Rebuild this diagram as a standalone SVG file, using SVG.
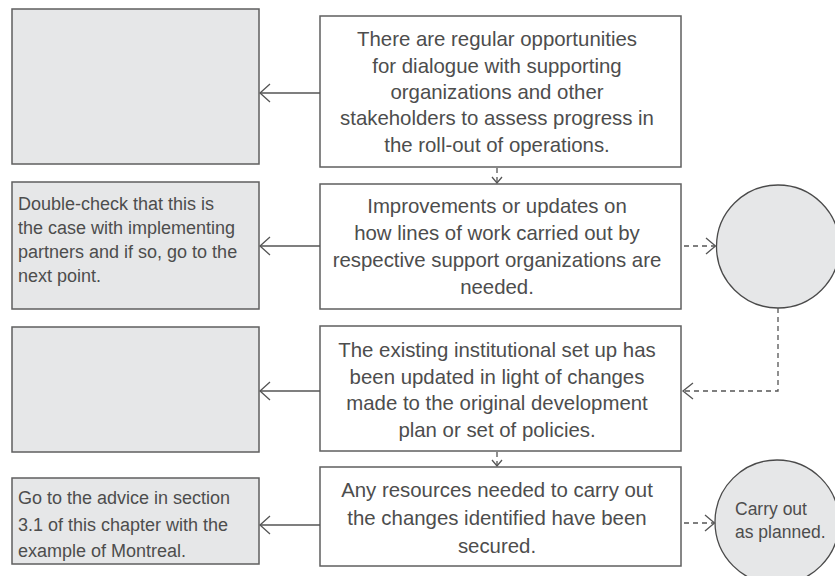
<svg xmlns="http://www.w3.org/2000/svg" width="835" height="576" viewBox="0 0 835 576">
<style>
.box{fill:#ffffff;stroke:#5f5f5f;stroke-width:1.5}
.gbox{fill:#e6e7e8;stroke:#5f5f5f;stroke-width:1.5}
.circ{fill:#e6e7e8;stroke:#4a4a4a;stroke-width:1.3}
.t{font-family:"Liberation Sans",Arial,sans-serif;fill:#4d4d4d}
.mid{font-size:20.4px;text-anchor:middle}
.side{font-size:18px}
.line{fill:none;stroke:#555;stroke-width:1.3}
.dash{fill:none;stroke:#555;stroke-width:1.3;stroke-dasharray:5 4}
.head{fill:none;stroke:#555;stroke-width:1.3}
</style>
<g id="left1"><rect class="gbox" x="12" y="9" width="247" height="155"/></g>
<g id="left2"><rect class="gbox" x="12" y="182" width="247" height="127"/>
<text class="t side" x="18" y="210">Double-check that this is</text>
<text class="t side" x="18" y="234">the case with implementing</text>
<text class="t side" x="18" y="258">partners and if so, go to the</text>
<text class="t side" x="18" y="282">next point.</text></g>
<g id="left3"><rect class="gbox" x="12" y="327" width="247" height="125"/></g>
<g id="left4"><rect class="gbox" x="12" y="478" width="247" height="86"/>
<text class="t side" x="18" y="504">Go to the advice in section</text>
<text class="t side" x="18" y="530.5">3.1 of this chapter with the</text>
<text class="t side" x="18" y="557">example of Montreal.</text></g>
<g id="mid1"><rect class="box" x="320" y="16" width="361" height="151"/>
<text class="t mid" x="497" y="46">There are regular opportunities</text>
<text class="t mid" x="497" y="72.5">for dialogue with supporting</text>
<text class="t mid" x="497" y="99">organizations and other</text>
<text class="t mid" x="497" y="125">stakeholders to assess progress in</text>
<text class="t mid" x="497" y="151.5">the roll-out of operations.</text></g>
<g id="mid2"><rect class="box" x="320" y="184" width="361" height="125"/>
<text class="t mid" x="497" y="213">Improvements or updates on</text>
<text class="t mid" x="497" y="240">how lines of work carried out by</text>
<text class="t mid" x="497" y="267">respective support organizations are</text>
<text class="t mid" x="497" y="294">needed.</text></g>
<g id="mid3"><rect class="box" x="320" y="326" width="361" height="125"/>
<text class="t mid" x="497" y="357">The existing institutional set up has</text>
<text class="t mid" x="497" y="383.5">been updated in light of changes</text>
<text class="t mid" x="497" y="410">made to the original development</text>
<text class="t mid" x="497" y="436.5">plan or set of policies.</text></g>
<g id="mid4"><rect class="box" x="320" y="467" width="361" height="99"/>
<text class="t mid" x="497" y="497">Any resources needed to carry out</text>
<text class="t mid" x="497" y="525">the changes identified have been</text>
<text class="t mid" x="497" y="553">secured.</text></g>
<g id="circle1"><circle class="circ" cx="778" cy="246.5" r="61.5"/></g>
<g id="circle2"><circle class="circ" cx="777" cy="522" r="62"/>
<text class="t" style="font-size:17.5px" x="735" y="515">Carry out</text>
<text class="t" style="font-size:17.5px" x="735" y="538">as planned.</text></g>
<g id="connectors">
<path class="line" d="M320 93H260"/><path class="head" d="M270 84L260 93L270 102"/>
<path class="line" d="M320 246H260"/><path class="head" d="M270 237L260 246L270 255"/>
<path class="line" d="M320 391H260"/><path class="head" d="M270 382L260 391L270 400"/>
<path class="line" d="M320 525H260"/><path class="head" d="M270 516L260 525L270 534"/>
<path class="dash" d="M497 168V183"/><path class="head" d="M492 177L497 183L502 177"/>
<path class="dash" d="M497 452V466"/><path class="head" d="M492 460L497 466L502 460"/>
<path class="dash" d="M684 246H715"/><path class="head" d="M706 238L715.5 246L706 254"/>
<path class="dash" d="M778 308V391H684"/><path class="head" d="M693 383L683 391L693 399"/>
<path class="dash" d="M684 523H714"/><path class="head" d="M705 515L714.5 523L705 531"/>
</g>
</svg>
